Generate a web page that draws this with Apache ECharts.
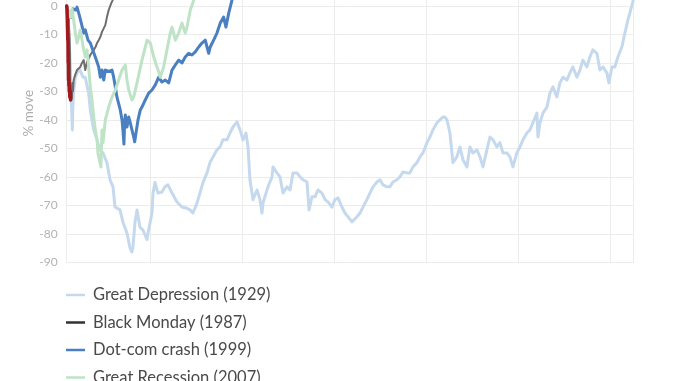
<!DOCTYPE html>
<html><head><meta charset="utf-8">
<script src="https://cdn.jsdelivr.net/npm/echarts@6/dist/echarts.min.js"></script>
<style>html,body{margin:0;padding:0;background:#fff}#c{width:678px;height:381px}</style>
</head><body><div id="c"></div>
<script>
// x = trading days since the market peak, y = % move from the peak
const seriesNames = ['Great Depression (1929)', 'Black Monday (1987)', 'Dot-com crash (1999)', 'Great Recession (2007)', 'COVID-19 (2020)'];
const seriesColors = ['#c5d9ee', '#6e6e6e', '#4a7fc1', '#bfe3c6', '#a3181c'];
const legendColors = ['#c5d9ee', '#333333', '#4a7fc1', '#bfe3c6'];

const greatDepression = [[0,0],[15,-6],[30,-14],[40,-22],[50,-33],[58,-40],[62,-43.5],[66,-36],[76,-30],[94,-25],[120,-23],[145,-22.5],[177,-25],[202,-25],[221,-28],[239,-30.6],[257,-36.5],[275,-40],[294,-43.5],[330,-47],[362,-50.5],[395,-51.6],[438,-55],[471,-61],[504,-63.5],[526,-70.6],[580,-71.6],[613,-76],[656,-79.7],[689,-85],[710,-86.4],[721,-84.6],[743,-76],[765,-71.6],[797,-77.6],[830,-78.7],[874,-82],[885,-79.7],[928,-72.7],[939,-65.7],[961,-62],[993,-65.7],[1037,-65.3],[1070,-63.5],[1102,-62.8],[1146,-65.7],[1200,-68.8],[1254,-70.6],[1309,-71],[1342,-71.6],[1374,-72.7],[1418,-69.2],[1450,-65.7],[1483,-62],[1527,-58.6],[1559,-55],[1592,-53],[1635,-50.5],[1668,-49.5],[1700,-47],[1744,-47],[1777,-44.6],[1809,-42.5],[1853,-40.7],[1886,-43.5],[1918,-47],[1951,-44.6],[1973,-49.5],[1994,-61],[2016,-65.7],[2027,-68],[2071,-64.6],[2103,-68],[2125,-72.7],[2136,-69.2],[2157,-67],[2190,-63.5],[2234,-60],[2245,-56.5],[2288,-58.6],[2321,-60],[2354,-65.7],[2397,-63.5],[2430,-64.6],[2463,-58.6],[2506,-58.6],[2539,-60],[2571,-61],[2615,-61.8],[2637,-71.6],[2669,-67],[2702,-67],[2735,-64.6],[2778,-65.7],[2811,-68],[2843,-68.8],[2887,-70.6],[2919,-68],[2952,-67.4],[2996,-70.6],[3028,-72.7],[3061,-74],[3104,-75.8],[3115,-76.2],[3159,-74],[3192,-72.7],[3224,-70.6],[3267,-68],[3300,-65.7],[3333,-63.5],[3376,-61.8],[3409,-61],[3441,-62.8],[3485,-63.5],[3518,-63.5],[3550,-61.8],[3594,-61],[3626,-60],[3659,-58.3],[3703,-58.6],[3735,-58.6],[3768,-56.5],[3811,-55],[3844,-53],[3877,-51.6],[3920,-48],[3953,-46],[3985,-43.5],[4029,-41],[4062,-40],[4094,-39],[4116,-39],[4138,-40],[4170,-44.6],[4192,-51.6],[4203,-55],[4246,-53],[4279,-49.5],[4312,-54],[4355,-56.5],[4388,-49.5],[4420,-51.6],[4464,-50.5],[4497,-53],[4529,-56.5],[4573,-50.5],[4606,-46],[4638,-47],[4682,-49.5],[4714,-48],[4747,-51.6],[4790,-51.6],[4823,-53],[4856,-56.5],[4899,-51.6],[4932,-49.5],[4965,-47],[5008,-44.6],[5041,-43.5],[5073,-41],[5117,-37.6],[5128,-46],[5150,-41],[5182,-37.6],[5226,-35.5],[5258,-30.6],[5291,-28.4],[5334,-31.9],[5367,-27],[5400,-25],[5443,-26],[5476,-23.5],[5508,-21.4],[5552,-25],[5585,-22.5],[5617,-19],[5661,-21.4],[5693,-17.9],[5726,-15.4],[5770,-16.6],[5802,-22.5],[5835,-21.4],[5878,-23.5],[5900,-27],[5933,-21.4],[5965,-21.4],[5998,-17.9],[6041,-14.4],[6074,-9.5],[6107,-4.9],[6128,-2.5],[6165,2]];

const blackMonday = [[0,0],[10,-3],[20,-5],[30,-10],[36,-17],[38,-30],[44,-28],[50,-33],[58,-32],[62,-27],[68,-30],[76,-26],[94,-24],[112,-22.5],[130,-23],[148,-21.4],[166,-20],[185,-19],[202,-22.5],[221,-19.7],[239,-18.5],[257,-17.2],[275,-16.5],[294,-15.4],[312,-14.5],[330,-13],[348,-12],[366,-10.9],[384,-9.1],[403,-9.5],[420,-6.7],[438,-3.9],[457,-1.4],[485,1],[500,2]];

const dotComCrash = [[0,0],[15,-6],[30,-2],[50,-4],[70,-1],[87,-1],[101,-1.4],[112,-0.4],[137,-3.2],[159,-6],[185,-9.5],[202,-8.4],[232,-12],[257,-13],[283,-15.4],[311,-17.9],[330,-19.7],[348,-21.4],[366,-25],[384,-22.5],[403,-26],[420,-22.5],[457,-23],[493,-22.5],[511,-25],[529,-28.4],[547,-32],[566,-32],[583,-36.5],[602,-40],[613,-44],[623,-48.5],[630,-41],[638,-38.3],[656,-42.5],[675,-39],[692,-41],[710,-43.5],[729,-46],[740,-47.7],[754,-44.6],[776,-40],[801,-36.5],[819,-35.5],[855,-33],[892,-30.6],[928,-29.5],[964,-27.7],[1001,-25],[1037,-26.7],[1073,-26],[1110,-27],[1146,-22.5],[1182,-20.7],[1219,-19],[1254,-20],[1290,-17.9],[1327,-16.6],[1363,-17.2],[1399,-16.1],[1436,-14.4],[1472,-13],[1508,-12],[1545,-16.6],[1562,-14.4],[1599,-12],[1635,-9.5],[1671,-6],[1708,-3.9],[1733,-7.4],[1763,-2.5],[1798,2]];

const greatRecession = [[0,0],[20,-2],[40,-4],[58,-1],[76,-5],[94,-9.5],[112,-13],[131,-10.9],[148,-8.4],[185,-15.4],[202,-17.9],[221,-15.4],[239,-21.4],[257,-28.4],[275,-33],[294,-39],[311,-43.5],[330,-47],[340,-51.6],[362,-55],[373,-56.5],[378,-50],[384,-43.5],[395,-48],[420,-40],[457,-35.5],[493,-32],[529,-29.5],[566,-26],[602,-22.5],[638,-20.7],[656,-26],[675,-29.5],[710,-33],[729,-32],[765,-27],[819,-19],[855,-14.4],[874,-12],[910,-13],[947,-17.9],[982,-21.4],[1001,-23],[1018,-25],[1055,-21.4],[1091,-15.4],[1127,-9.5],[1146,-7.4],[1182,-12],[1219,-9.5],[1254,-6],[1290,-9.5],[1309,-7.4],[1345,-1.4],[1382,2]];

const covid = [[0,0],[4,-1],[6,-4],[9,-8],[12,-12],[14,-11],[16,-20],[18,-19],[20,-26],[22,-25],[24,-28],[26,-27],[28,-30],[31,-29],[34,-32],[38,-30],[42,-33]];

const yMin = -90, yMax = 2.1, yStep = 10;
const yGridMoves = [-90, -80, -70, -60, -50, -40, -30, -20, -10, 0];
const xMax = 6170;
const xGridDays = [914, 1914, 2914, 3914, 4914, 5914, 6170];

const font = 'Lato, "Noto Sans", sans-serif';
const allData = [greatDepression, blackMonday, dotComCrash, greatRecession, covid];
const widths = [3, 2, 3, 3, 3.5];

const chart = echarts.init(document.getElementById('c'), null, {renderer: 'canvas'});
const series = allData.map((d, i) => ({
  name: seriesNames[i],
  type: 'line',
  data: d,
  showSymbol: false,
  symbol: 'none',
  color: seriesColors[i],
  lineStyle: {width: widths[i], color: seriesColors[i], cap: 'round', join: 'round'},
  z: 2 + i,
  silent: true
}));
series[0].markLine = {
  silent: true,
  symbol: 'none',
  z: 1,
  label: {show: false},
  lineStyle: {type: 'solid', color: '#ececec', width: 1},
  data: xGridDays.map(v => ({xAxis: v})).concat(yGridMoves.map(v => ({yAxis: v})))
};

chart.setOption({
  animation: false,
  backgroundColor: '#fff',
  textStyle: {fontFamily: font},
  grid: {left: 66.7, right: 678 - 633.7, top: 0, bottom: 381 - 262.3, containLabel: false},
  xAxis: {
    type: 'value', min: 0, max: xMax,
    axisLine: {show: false}, axisTick: {show: false}, axisLabel: {show: false},
    splitLine: {show: false}
  },
  yAxis: {
    type: 'value', min: yMin, max: yMax, interval: yStep,
    name: '% move', nameLocation: 'middle', nameGap: 31, nameMoveOverlap: false,
    nameTextStyle: {color: '#adadad', fontSize: 13.5, fontFamily: font, padding: [0, 0, 0, 36]},
    axisLine: {show: true, lineStyle: {color: '#ececec', width: 1}},
    axisTick: {show: false},
    axisLabel: {color: '#b3b3b3', fontSize: 12, margin: 9, fontFamily: font,
      formatter: v => (v > 0 ? '' : String(v))},
    splitLine: {show: false}
  },
  legend: {
    orient: 'vertical', left: 61, top: 281, height: 150,
    icon: 'rect', itemWidth: 19, itemHeight: 2.5, itemGap: 9.5,
    textStyle: {color: '#4a4a4a', fontSize: 16.5, fontFamily: font, lineHeight: 18, padding: [0, 0, 0, 3]},
    data: legendColors.map((c, i) => ({name: seriesNames[i], itemStyle: {color: c}})),
    selectedMode: false
  },
  series: series
});
</script>
</body></html>
